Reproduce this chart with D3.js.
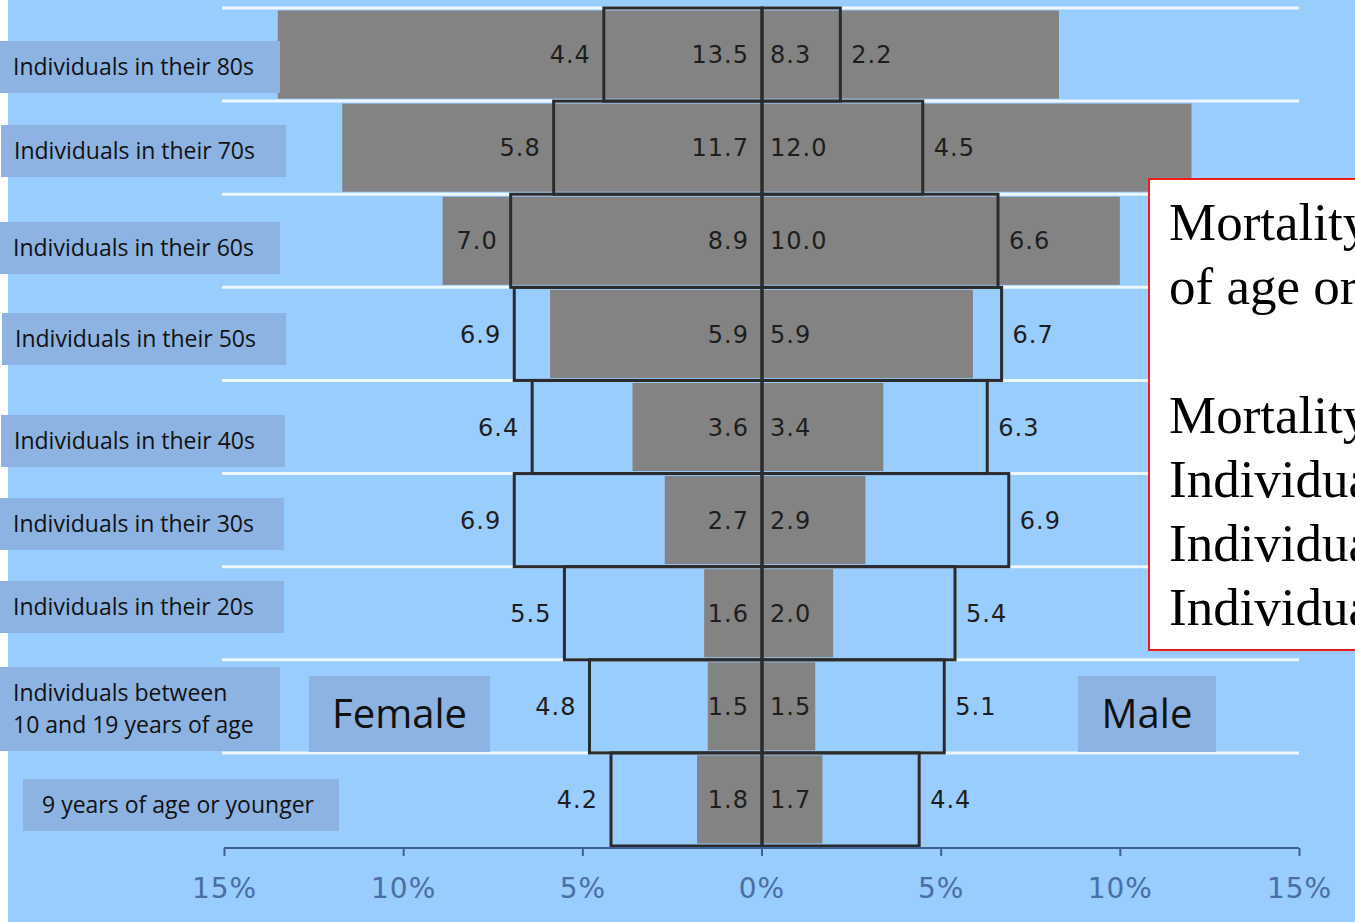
<!DOCTYPE html>
<html>
<head>
<meta charset="utf-8">
<script src="https://cdn.jsdelivr.net/npm/d3@7"></script>
<style>
  html, body { margin: 0; padding: 0; background: #99CCFF; overflow: hidden; }
  svg { display: block; }
</style>
</head>
<body>
<svg id="chart" width="1355" height="922"></svg>
<script>
// Age groups, top row first
const ageGroups = [
  ["Individuals in their 80s"],
  ["Individuals in their 70s"],
  ["Individuals in their 60s"],
  ["Individuals in their 50s"],
  ["Individuals in their 40s"],
  ["Individuals in their 30s"],
  ["Individuals in their 20s"],
  ["Individuals between", "10 and 19 years of age"],
  ["9 years of age or younger"]
];
// Share of deaths (grey bars), percent
const femaleMortality = [13.5, 11.7, 8.9, 5.9, 3.6, 2.7, 1.6, 1.5, 1.8];
const maleMortality   = [8.3, 12.0, 10.0, 5.9, 3.4, 2.9, 2.0, 1.5, 1.7];
// Share of population (outlined bars), percent
const femalePopulation = [4.4, 5.8, 7.0, 6.9, 6.4, 6.9, 5.5, 4.8, 4.2];
const malePopulation   = [2.2, 4.5, 6.6, 6.7, 6.3, 6.9, 5.4, 5.1, 4.4];
// Axis ticks
const tickValues = [-15, -10, -5, 0, 5, 10, 15];
// Side labels and note text
const sideLabels = ["Female", "Male"];
const noteLines = ["Mortality rate", "of age or older", "", "Mortality rate", "Individuals", "Individuals", "Individuals"];

// Placement of the category boxes (left, top, width, height)
const labelBoxes = [
  [0, 41, 280, 52], [1, 125, 285, 52], [0, 222, 280, 52], [2, 313, 284, 52],
  [1, 415, 284, 52], [0, 498, 284, 52], [0, 581, 284, 52], [0, 667, 280, 84],
  [23, 779, 316, 52]
];

const svg = d3.select("#chart");
const W = 1355, H = 922;
const center = 762;

svg.append("rect").attr("width", W).attr("height", H).attr("fill", "#99CCFF");
svg.append("rect").attr("x", 0).attr("y", 0).attr("width", 8).attr("height", H).attr("fill", "#ffffff");

const xAxisScale = d3.scaleLinear().domain([-15, 15]).range([224, 1299]);
const xR = v => xAxisScale(v);
const xL = v => xAxisScale(-v);

const y = d3.scaleBand().domain(d3.range(ageGroups.length)).range([8, 846]).paddingInner(0);
const bh = y.bandwidth();

// Gridlines at row boundaries
svg.append("g").selectAll("line")
  .data(d3.range(ageGroups.length))
  .join("line")
  .attr("x1", 222).attr("x2", 1299)
  .attr("y1", i => y(i)).attr("y2", i => y(i))
  .attr("stroke", "#eef7ff").attr("stroke-width", 3);

const rows = d3.range(ageGroups.length);

// Mortality bars
const grey = "#838383";
svg.append("g").selectAll("rect.fm").data(rows).join("rect")
  .attr("x", i => xL(femaleMortality[i])).attr("y", i => y(i) + 2.5)
  .attr("width", i => center - xL(femaleMortality[i])).attr("height", bh - 5)
  .attr("fill", grey);
svg.append("g").selectAll("rect.mm").data(rows).join("rect")
  .attr("x", center).attr("y", i => y(i) + 2.5)
  .attr("width", i => xR(maleMortality[i]) - center).attr("height", bh - 5)
  .attr("fill", grey);

// Population outlines
const outline = "#2b2b2b";
svg.append("g").selectAll("rect").data(rows).join("rect")
  .attr("x", i => xL(femalePopulation[i])).attr("y", i => y(i))
  .attr("width", i => center - xL(femalePopulation[i])).attr("height", bh)
  .attr("fill", "none").attr("stroke", outline).attr("stroke-width", 3);
svg.append("g").selectAll("rect").data(rows).join("rect")
  .attr("x", center).attr("y", i => y(i))
  .attr("width", i => xR(malePopulation[i]) - center).attr("height", bh)
  .attr("fill", "none").attr("stroke", outline).attr("stroke-width", 3);

// Value labels
const valFont = { "font-family": "DejaVu Sans", "font-size": 24, "fill": "#1e1e1e", "letter-spacing": 1 };
function applyFont(sel, f) { Object.entries(f).forEach(([k, v]) => sel.attr(k, v)); return sel; }
const labels = svg.append("g");
applyFont(labels.selectAll("text.a").data(rows).join("text")
  .attr("x", center - 13).attr("y", i => y(i) + bh / 2).attr("dy", "0.36em")
  .attr("text-anchor", "end").text(i => femaleMortality[i].toFixed(1)), valFont);
applyFont(labels.selectAll("text.b").data(rows).join("text")
  .attr("x", center + 8).attr("y", i => y(i) + bh / 2).attr("dy", "0.36em")
  .attr("text-anchor", "start").text(i => maleMortality[i].toFixed(1)), valFont);
applyFont(labels.selectAll("text.c").data(rows).join("text")
  .attr("x", i => xL(femalePopulation[i]) - 13).attr("y", i => y(i) + bh / 2).attr("dy", "0.36em")
  .attr("text-anchor", "end").text(i => femalePopulation[i].toFixed(1)), valFont);
applyFont(labels.selectAll("text.d").data(rows).join("text")
  .attr("x", i => xR(malePopulation[i]) + 11).attr("y", i => y(i) + bh / 2).attr("dy", "0.36em")
  .attr("text-anchor", "start").text(i => malePopulation[i].toFixed(1)), valFont);

// Bottom axis
const axis = d3.axisBottom(xAxisScale).tickValues(tickValues)
  .tickFormat(d => Math.abs(d) + "%").tickSize(8).tickPadding(22);
const ag = svg.append("g").attr("transform", "translate(0,848)").call(axis);
ag.select(".domain").attr("stroke", "#3d6096").attr("stroke-width", 2).attr("d", "M224,0H1299");
ag.selectAll(".tick line").attr("stroke", "#3d6096").attr("stroke-width", 2);
ag.selectAll(".tick text").attr("fill", "#4a6ea6").attr("font-family", "DejaVu Sans")
  .attr("font-size", 28).attr("letter-spacing", 1);

// Category boxes
const cat = svg.append("g");
rows.forEach(i => {
  const [bx, by, bw, bhh] = labelBoxes[i];
  cat.append("rect").attr("x", bx).attr("y", by).attr("width", bw).attr("height", bhh).attr("fill", "#8DB3E2");
  const lines = ageGroups[i];
  const t = cat.append("text").attr("font-family", "Open Sans").attr("font-size", 23).attr("fill", "#111");
  const lh = 32;
  const startY = by + bhh / 2 - (lines.length - 1) * lh / 2;
  lines.forEach((s, k) => {
    t.append("tspan").attr("x", bx + (i === 8 ? 19 : 13)).attr("y", startY + k * lh).attr("dy", "0.34em").text(s);
  });
});

// Female / Male boxes
const sideBoxes = [[309, 676, 181, 76], [1078, 676, 138, 76]];
sideLabels.forEach((s, k) => {
  const [bx, by, bw, bhh] = sideBoxes[k];
  svg.append("rect").attr("x", bx).attr("y", by).attr("width", bw).attr("height", bhh).attr("fill", "#8DB3E2");
  svg.append("text").attr("x", bx + bw / 2).attr("y", by + bhh / 2).attr("dy", "0.36em")
    .attr("text-anchor", "middle").attr("font-family", "Open Sans").attr("font-size", 40)
    .attr("fill", "#111").text(s);
});

// Note box on the right
svg.append("rect").attr("x", 1149).attr("y", 179).attr("width", 230).attr("height", 471)
  .attr("fill", "#ffffff").attr("stroke", "#ee1c1c").attr("stroke-width", 2);
const note = svg.append("text").attr("font-family", "Liberation Serif").attr("font-size", 53).attr("fill", "#000");
noteLines.forEach((s, k) => {
  note.append("tspan").attr("x", 1169).attr("y", 240 + k * 64.2).text(s);
});
</script>
</body>
</html>
